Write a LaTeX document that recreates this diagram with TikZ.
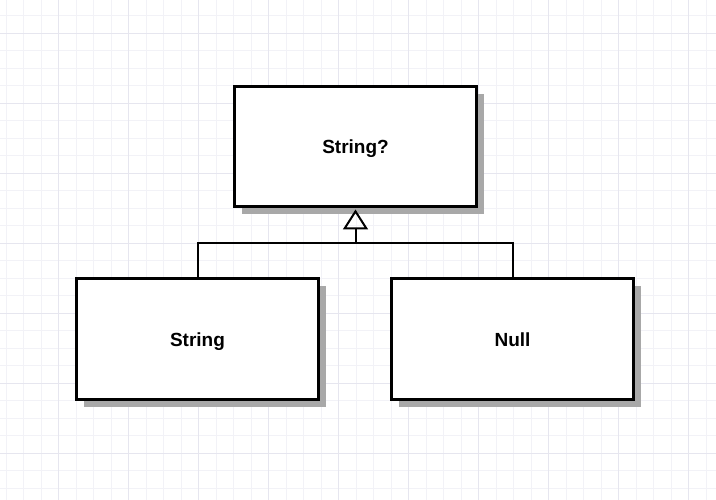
\documentclass[tikz,border=0pt]{standalone}
\usepackage{fontspec}
\setmainfont{Liberation Sans}
\usetikzlibrary{arrows.meta, shadows}
\definecolor{gridminor}{RGB}{242,242,247}
\definecolor{gridmajor}{RGB}{230,230,239}
\definecolor{shadowgray}{RGB}{168,168,168}

\tikzset{
    classbox/.style={draw=black, line width=3pt, fill=white, minimum width=242pt, minimum height=120pt,
        text height=15pt, text depth=0pt, font=\fontsize{19}{23}\selectfont\bfseries,
        drop shadow={shadow xshift=7.5pt, shadow yshift=-7.5pt, fill=shadowgray, opacity=1}},
    inherit/.style={line width=2pt},
}

\begin{document}
\begin{tikzpicture}[x=1pt, y=-1pt]
        % Background grid
        \fill[white] (0,0) rectangle (716,500);
        \useasboundingbox (0,0) rectangle (716,500);
        \foreach \x in {6,23.5,...,716} \draw[gridminor, line width=1pt] (\x,0) -- (\x,500);
        \foreach \y in {15.75,33.25,...,500} \draw[gridminor, line width=1pt] (0,\y) -- (716,\y);
        \foreach \x in {58.5,128.5,...,716} \draw[gridmajor, line width=1pt] (\x,0) -- (\x,500);
        \foreach \y in {33.25,103.25,...,500} \draw[gridmajor, line width=1pt] (0,\y) -- (716,\y);
        
        % Classes
        \node[classbox] (opt) at (355.5,146.5) {String?};
        \node[classbox] (str) at (197.5,339) {String};
        \node[classbox] (null) at (512.5,339) {Null};
        
        % Generalization
        \coordinate (hub) at (355.5,243);
        \draw[inherit] (str.north) |- (hub) -| (null.north);
        \draw[inherit, -{Triangle[open, length=20pt, width=25pt]}] (hub) -- ([yshift=-1.5pt]opt.south);
    \end{tikzpicture}
\end{document}
